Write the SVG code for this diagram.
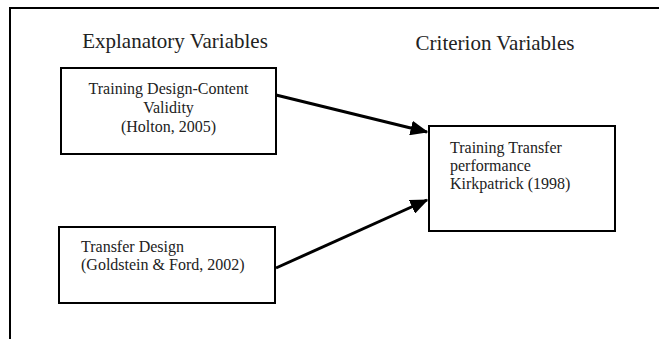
<svg xmlns="http://www.w3.org/2000/svg" width="659" height="339" viewBox="0 0 659 339">
<style>
.t{font-family:"Liberation Serif","Times New Roman",serif;fill:#222;}
.h{font-size:21px;}
.s{font-size:16px;}
.box{fill:#fff;stroke:#000;stroke-width:2;}
.c{stroke:#000;stroke-width:3;fill:none;}
</style>
<defs>
<marker id="ah" markerWidth="6" markerHeight="5" refX="5.5" refY="2.5" orient="auto" markerUnits="strokeWidth">
<path d="M0,0 L6,2.5 L0,5 z" fill="#000"/>
</marker>
</defs>
<rect width="659" height="339" fill="#fff"/>
<g id="frame">
<path d="M10,339 L10,8 L659,8" fill="none" stroke="#000" stroke-width="2"/>
</g>
<text class="t h" x="175" y="48" text-anchor="middle">Explanatory Variables</text>
<text class="t h" x="495" y="50" text-anchor="middle">Criterion Variables</text>
<g id="connectors">
<line class="c" x1="276" y1="95" x2="427" y2="132" marker-end="url(#ah)"/>
<line class="c" x1="276" y1="268" x2="427" y2="200" marker-end="url(#ah)"/>
</g>
<g id="node-design-content">
<rect class="box" x="61" y="68" width="215" height="86"/>
<text class="t s" x="168.5" y="94" text-anchor="middle">Training Design-Content</text>
<text class="t s" x="168.5" y="113" text-anchor="middle">Validity</text>
<text class="t s" x="168.5" y="132" text-anchor="middle">(Holton, 2005)</text>
</g>
<g id="node-transfer-design">
<rect class="box" x="59" y="227" width="216" height="76"/>
<text class="t s" x="81" y="252">Transfer Design</text>
<text class="t s" x="81" y="270">(Goldstein &amp; Ford, 2002)</text>
</g>
<g id="node-transfer-performance">
<rect class="box" x="429" y="126" width="186" height="105"/>
<text class="t s" x="450" y="153">Training Transfer</text>
<text class="t s" x="450" y="171">performance</text>
<text class="t s" x="450" y="189">Kirkpatrick (1998)</text>
</g>
</svg>
